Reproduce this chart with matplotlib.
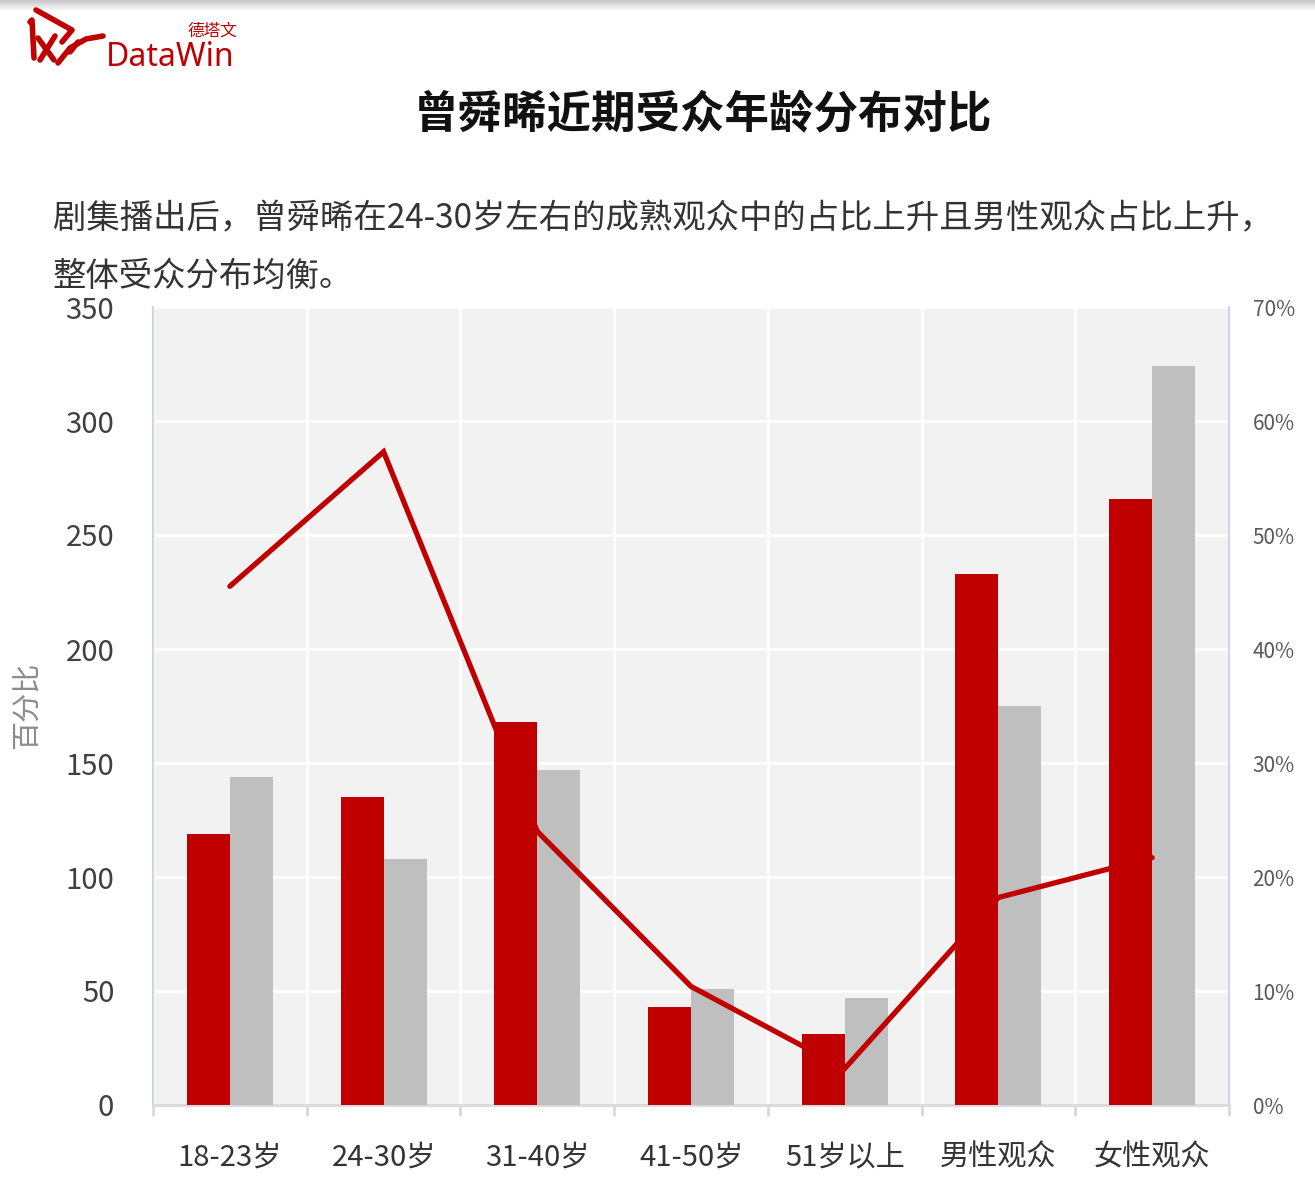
import numpy as np
import matplotlib
matplotlib.use("Agg")
import matplotlib.pyplot as plt
from matplotlib.ticker import PercentFormatter
from matplotlib.lines import Line2D

plt.rcParams['font.family'] = ['Noto Sans CJK SC', 'DejaVu Sans']

# data
categories = ['18-23岁', '24-30岁', '31-40岁', '41-50岁', '51岁以上', '男性观众', '女性观众']
red_bars = [119, 135, 168, 43, 31, 233, 266]
gray_bars = [144, 108, 147, 51, 47, 175, 324]
line_share = [0.455, 0.573, 0.240, 0.104, 0.032, 0.182, 0.217]
left_ticks = [0, 50, 100, 150, 200, 250, 300, 350]
right_ticks = [0, 0.1, 0.2, 0.3, 0.4, 0.5, 0.6, 0.7]

RED = '#c00000'
GRAY = '#bfbfbf'
TXT = '#404040'

W, H = 1315, 1181
fig = plt.figure(figsize=(W / 100, H / 100), dpi=100)

# top shadow strip
shadow = fig.add_axes([0, 1 - 12 / H, 1, 12 / H])
shadow.imshow(np.linspace(0.78, 1.0, 12).reshape(-1, 1), cmap='gray', vmin=0, vmax=1,
              aspect='auto', extent=[0, 1, 0, 1])
shadow.axis('off')

# logo
fig.text(106 / W, 1 - 58 / H, 'DataWin', color=RED, fontsize=23, va='center', ha='left',
         family=['Noto Sans', 'DejaVu Sans'])
fig.text(237 / W, 1 - 31 / H, '德塔文', color=RED, fontsize=12, va='center', ha='right')
strokes = [
    ([30, 32, 34], [22, 20, 58]),          # left bar
    ([36, 72, 62], [10, 30, 42]),          # upper chevron
    ([38, 54], [38, 60]),                  # lower cross
    ([40, 55], [60, 36]),
    ([58, 70, 86, 103], [63, 48, 39, 36]),  # swoosh
    ([70, 78], [52, 42]),
]
for xs, ys in strokes:
    fig.add_artist(Line2D([v / W for v in xs], [1 - v / H for v in ys], color=RED,
                          lw=4, solid_capstyle='round', solid_joinstyle='round',
                          transform=fig.transFigure))

# titles
fig.text(703 / W, 1 - 115 / H, '曾舜晞近期受众年龄分布对比', fontsize=32, fontweight='bold',
         ha='center', va='center', color='#111111')
fig.text(53 / W, 1 - 219 / H, '剧集播出后，曾舜晞在24-30岁左右的成熟观众中的占比上升且男性观众占比上升，',
         fontsize=24, ha='left', va='center', color='#333333')
fig.text(53 / W, 1 - 276 / H, '整体受众分布均衡。', fontsize=24, ha='left', va='center', color='#333333')

fig.text(28 / W, 1 - 705 / H, '百分比', fontsize=21, rotation=90, ha='center', va='center', color='#8c8c8c')

# axes
left, right, top, bottom = 153, 1229, 307, 1105
ax = fig.add_axes([left / W, 1 - bottom / H, (right - left) / W, (bottom - top) / H])
x = np.arange(len(categories))
bw = 0.28

ax.set_facecolor('#f2f2f2')
ax.bar(x + bw / 2, gray_bars, width=bw, color=GRAY, zorder=3)
ax.set_xlim(-0.5, len(categories) - 0.5)
ax.set_ylim(0, 350)
ax.set_yticks(left_ticks)
ax.tick_params(axis='y', length=0, labelsize=21, labelcolor=TXT, pad=28)
ax.set_xticks(x)
ax.set_xticklabels(categories)
ax.set_xticks(np.arange(len(categories) + 1) - 0.5, minor=True)
ax.tick_params(axis='x', which='major', length=0, labelsize=21, labelcolor='#333333', pad=27)
ax.tick_params(axis='x', which='minor', length=8, width=2, color='#d9d9d9')
ax.grid(axis='y', color='white', lw=2, zorder=1)
ax.grid(axis='x', which='minor', color='white', lw=2, zorder=1)
ax.set_axisbelow(True)
for side in ['left', 'right']:
    ax.spines[side].set_color('#c9d6ee')
    ax.spines[side].set_linewidth(1.5)
ax.spines['top'].set_visible(False)
ax.spines['bottom'].set_color('#d9d9d9')
ax.spines['bottom'].set_linewidth(2)

# line on secondary axis
ax2 = ax.twinx()
ax2.plot(x, line_share, color=RED, lw=3.8, solid_capstyle='round', solid_joinstyle='miter', zorder=4)
ax2.set_ylim(0, 0.7)
ax2.set_yticks(right_ticks)
ax2.yaxis.set_major_formatter(PercentFormatter(1.0, decimals=0))
ax2.tick_params(axis='y', length=0, labelsize=15, labelcolor='#595959', pad=17)
for s in ax2.spines.values():
    s.set_visible(False)
ax2.patch.set_visible(False)

# red bars sit on top of the line
ax3 = ax.twinx()
ax3.bar(x - bw / 2, red_bars, width=bw, color=RED)
ax3.set_ylim(0, 350)
ax3.set_xlim(-0.5, len(categories) - 0.5)
ax3.axis('off')
ax3.patch.set_visible(False)
ax2.set_zorder(ax.get_zorder() + 1)
ax3.set_zorder(ax.get_zorder() + 2)

fig.savefig('out.png', dpi=100, facecolor='white')
